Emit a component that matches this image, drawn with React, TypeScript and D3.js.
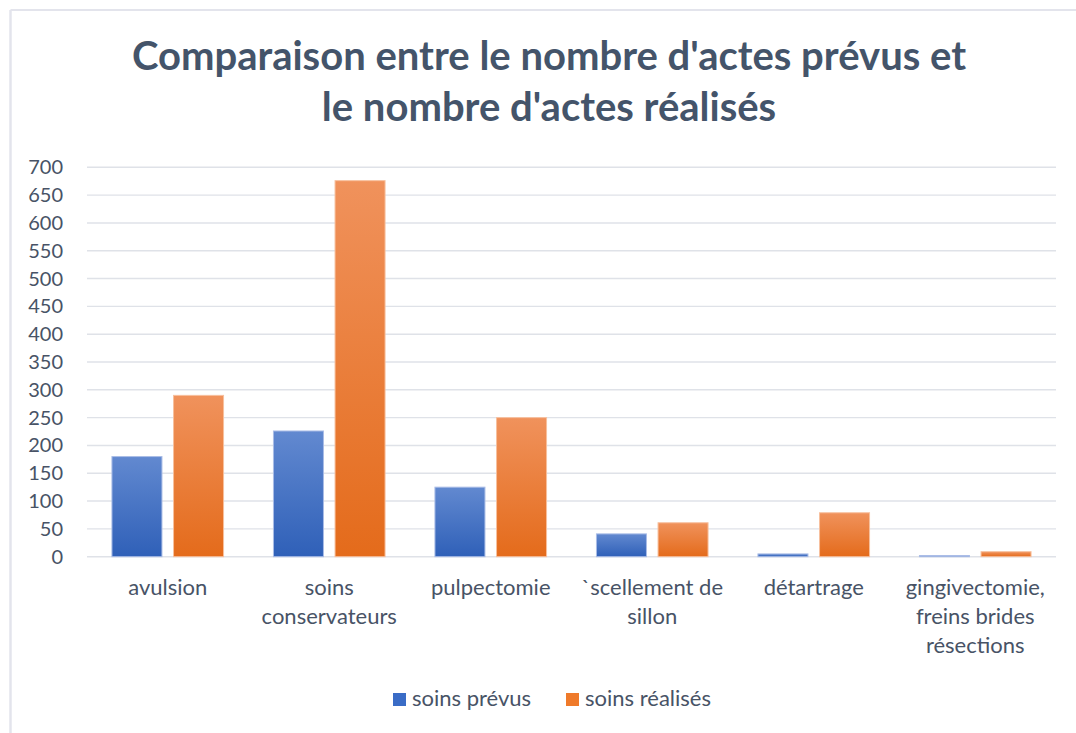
import * as d3 from 'd3'

const categories = [
  'avulsion',
  'soins conservateurs',
  'pulpectomie',
  '`scellement de sillon',
  'détartrage',
  'gingivectomie, freins brides résections',
]
// how each category label breaks across lines
const categoryLines = [
  ['avulsion'],
  ['soins', 'conservateurs'],
  ['pulpectomie'],
  ['`scellement de', 'sillon'],
  ['détartrage'],
  ['gingivectomie,', 'freins brides', 'résections'],
]
const seriesNames = ['soins prévus', 'soins réalisés']
const soinsPrevus = [180, 226, 125, 41, 5, 2]
const soinsRealises = [290, 676, 250, 61, 79, 9]
const yTicks = [0, 50, 100, 150, 200, 250, 300, 350, 400, 450, 500, 550, 600, 650, 700]
const titleLines = ["Comparaison entre le nombre d'actes prévus et", "le nombre d'actes réalisés"]

const W = 1076
const H = 733
const textColor = '#485366'
const font = 'Lato, "Open Sans", sans-serif'

const gradients = [
  { id: 'gBlue', top: '#6289d0', bottom: '#2f60b8', edge: '#a9bce6', swatch: '#3a6cc6' },
  { id: 'gOrange', top: '#f0925c', bottom: '#e46b1b', edge: '#f7c09e', swatch: '#ef7a2a' },
]

export default function App() {
  const x = d3.scaleBand<string>().domain(categories).range([87, 1056]).padding(0)
  const xs = d3
    .scaleBand<string>()
    .domain(seriesNames)
    .range([0, x.bandwidth()])
    .paddingInner(0.188)
    .paddingOuter(0.405)
  const y = d3.scaleLinear().domain([0, 700]).range([556.7, 167.3])

  const values = [soinsPrevus, soinsRealises]

  return (
    <svg
      width={W}
      height={H}
      style={{ position: 'absolute', left: 0, top: 0, display: 'block', background: '#fff' }}
    >
      <defs>
        {gradients.map((g) => (
          <linearGradient key={g.id} id={g.id} x1="0" y1="0" x2="0" y2="1">
            <stop offset="0%" stopColor={g.top} />
            <stop offset="100%" stopColor={g.bottom} />
          </linearGradient>
        ))}
      </defs>

      {/* frame of the chart area (cut off on the right and bottom) */}
      <line x1={10.5} y1={10} x2={W} y2={10} stroke="#e3e4ec" strokeWidth={2} />
      <line x1={10.5} y1={10} x2={10.5} y2={H} stroke="#e3e4ec" strokeWidth={2.5} />

      {/* title */}
      {titleLines.map((t, i) => (
        <text
          key={i}
          x={549}
          y={70 + i * 51}
          textAnchor="middle"
          fontFamily={font}
          fontWeight={700}
          fontSize={40}
          fill="#44546a"
        >
          {t}
        </text>
      ))}

      {/* gridlines + y labels */}
      {yTicks.map((t) => (
        <g key={t}>
          <line x1={87} x2={1056} y1={y(t)} y2={y(t)} stroke="#dfe2e8" strokeWidth={1.4} />
          <text
            x={63}
            y={y(t)}
            dy="0.35em"
            textAnchor="end"
            fontFamily={font}
            fontSize={20}
            fill={textColor}
          >
            {t}
          </text>
        </g>
      ))}

      {/* bars */}
      {categories.map((c, ci) => (
        <g key={c} transform={`translate(${x(c)},0)`}>
          {seriesNames.map((s, si) => {
            const v = values[si][ci]
            const top = y(v)
            return (
              <rect
                key={s}
                x={xs(s)}
                y={top}
                width={xs.bandwidth()}
                height={y(0) - top}
                fill={`url(#${gradients[si].id})`}
                stroke={gradients[si].edge}
                strokeWidth={1}
              />
            )
          })}
        </g>
      ))}

      {/* category labels */}
      {categories.map((c, ci) => (
        <text
          key={c}
          x={(x(c) ?? 0) + x.bandwidth() / 2}
          textAnchor="middle"
          fontFamily={font}
          fontSize={22}
          fill={textColor}
        >
          {categoryLines[ci].map((l, li) => (
            <tspan key={li} x={(x(c) ?? 0) + x.bandwidth() / 2} y={595 + li * 29}>
              {l}
            </tspan>
          ))}
        </text>
      ))}

      {/* legend */}
      {seriesNames.map((s, si) => {
        const lx = [393, 566][si]
        return (
          <g key={s}>
            <rect x={lx} y={693} width={13} height={13} fill={gradients[si].swatch} />
            <text x={lx + 19} y={706} fontFamily={font} fontSize={22} fill={textColor}>
              {s}
            </text>
          </g>
        )
      })}
    </svg>
  )
}
